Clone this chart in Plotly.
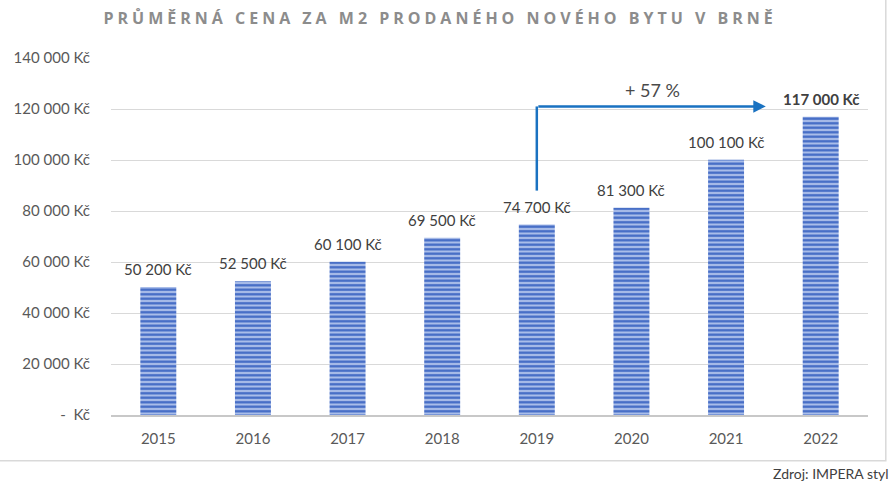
import plotly.graph_objects as go

# -------------------------------
# Datos: precio medio por m2 (Brno)
# -------------------------------
roky = ["2015", "2016", "2017", "2018", "2019", "2020", "2021", "2022"]
ceny = [50200, 52500, 60100, 69500, 74700, 81300, 100100, 117000]
y_ticks = [0, 20000, 40000, 60000, 80000, 100000, 120000, 140000]

titulek = "PRŮMĚRNÁ CENA ZA M2 PRODANÉHO NOVÉHO BYTU V BRNĚ"
zdroj = "Zdroj: IMPERA styl"


def kc(v):
    return f"{v:,}".replace(",", " ") + " Kč"


y_ticktext = ["-  Kč" if v == 0 else kc(v) for v in y_ticks]
popisky = [kc(v) for v in ceny]
popisky[-1] = "<b>" + popisky[-1] + "</b>"

narust = round((ceny[-1] / ceny[4] - 1) * 100)

fig = go.Figure()

fig.add_trace(
    go.Bar(
        x=roky,
        y=ceny,
        marker=dict(
            color="#4472c4",
            line=dict(width=0),
            pattern=dict(
                shape="-",
                fgcolor="#4169c4",
                bgcolor="#a9bde9",
                size=4.5,
                solidity=0.5,
                fillmode="replace",
            ),
        ),
        hoverinfo="skip",
    )
)

# etiquetas encima de cada barra (x como índice de categoría)
for i, (cena, txt) in enumerate(zip(ceny, popisky)):
    fig.add_annotation(
        x=i, y=cena, text=txt, showarrow=False,
        yanchor="middle", yshift=18,
        font=dict(family="Lato", size=15, color="#404040"),
    )

# flecha 2019 -> 2022
AZUL = "#1a72c1"
fig.add_shape(
    type="line", xref="x", yref="y",
    x0=4, x1=4, y0=88000, y1=121000,
    line=dict(color=AZUL, width=2.5),
)
fig.add_annotation(
    x=6.42, y=121000, ax=4, ay=121000,
    xref="x", yref="y", axref="x", ayref="y",
    text="", showarrow=True,
    arrowhead=2, arrowsize=1, arrowwidth=2.5, arrowcolor=AZUL,
)
fig.add_annotation(
    x=5.22, y=121000, yshift=16, text=f"+ {narust} %", showarrow=False,
    font=dict(family="Lato", size=18, color="#4a4a4a"),
)

# fuente
fig.add_annotation(
    xref="paper", yref="paper", x=1.031, y=-0.165,
    xanchor="right", yanchor="middle", text=zdroj, showarrow=False,
    font=dict(family="Lato", size=14, color="#404040"),
)

# marco del gráfico
fig.add_shape(
    type="rect", xref="paper", yref="paper",
    x0=-0.3, x1=1.0235, y0=-0.128, y1=1.4,
    line=dict(color="#d9d9d9", width=1.5), layer="below",
)

fig.update_layout(
    width=891,
    height=485,
    margin=dict(l=111, r=23, t=58, b=70),
    paper_bgcolor="white",
    plot_bgcolor="white",
    showlegend=False,
    bargap=0.62,
    title=dict(
        text=titulek, x=0.494, xanchor="center", y=0.962, yanchor="middle",
        font=dict(family="Open Sans", size=16, color="#8c8c8c", weight="bold"),
    ),
    font=dict(family="Lato", size=15, color="#595959"),
)
fig.update_xaxes(
    type="category", categoryorder="array", categoryarray=roky,
    range=[-0.5, len(roky) - 0.5], autorange=False,
    showgrid=False, showline=True,
    linecolor="#c8c8c8", linewidth=1.5, ticks="", ticklabelstandoff=9,
    tickfont=dict(family="Lato", size=15, color="#595959"),
)
fig.update_yaxes(
    range=[0, 140000], tickvals=y_ticks, ticktext=y_ticktext,
    showgrid=True, gridcolor="#d9d9d9", gridwidth=1, zeroline=False,
    ticks="", ticklabelstandoff=20,
    tickfont=dict(family="Lato", size=15, color="#595959"),
)

# sin margen de página + espaciado de letras del título (como en el original)
post = (
    "document.body.style.margin='0';"
    "document.querySelectorAll('.gtitle').forEach(function(e){e.style.letterSpacing='4px';});"
)
fig.write_html("out.html", post_script=post, config={"displayModeBar": False})
